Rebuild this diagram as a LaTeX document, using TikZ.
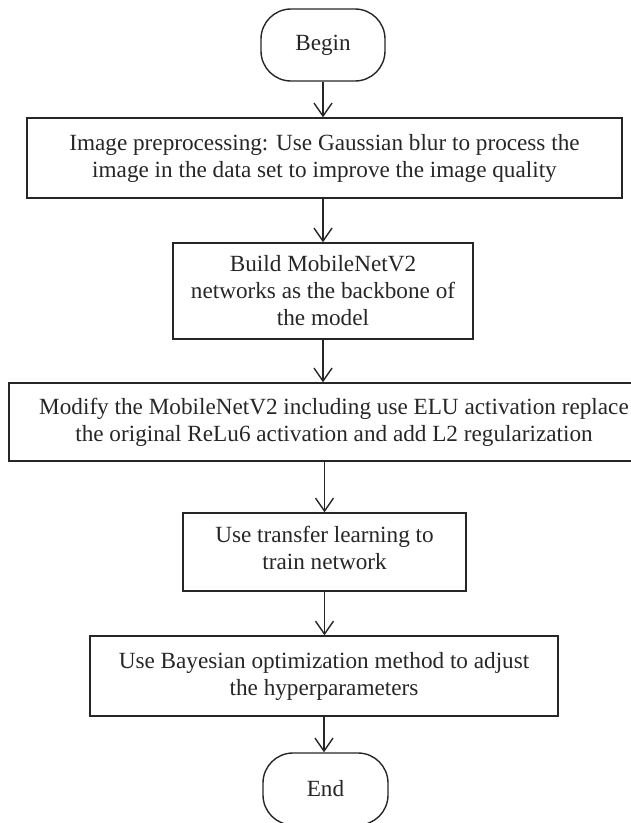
\documentclass[tikz,border=0pt]{standalone}
\usepackage{fontspec}
\setmainfont{Liberation Serif}
\usetikzlibrary{arrows.meta, positioning}

\begin{document}
\begin{tikzpicture}[
    x=1pt, y=-1pt,
    every node/.style = {draw=black!85, line width=1.4pt, align=center,
    inner sep=0pt, text=black!85, font=\fontsize{23.2}{27}\selectfont},
    term/.style = {rectangle, rounded corners=30pt,
    minimum width=124pt, minimum height=72pt},
    proc/.style = {rectangle, minimum height=#1},% box height
    flow/.style = {-{Straight Barb[length=13pt,width=18pt]},
    line width=1.4pt, draw=black!85}
    ]
    \useasboundingbox (0,0) rectangle (631,823);
    %
    \node (Begin) [term] at (323,45) {Begin};
    \node (Prep) [proc=80pt, minimum width=595pt] at (324.5,158)
        {Image preprocessing: Use Gaussian blur to process the\\
         image in the data set to improve the image quality};
    \node (Build) [proc=96pt, minimum width=300pt] at (323,291)
        {Build MobileNetV2\\networks as the backbone of\\the model};
    \node (Modify) [proc=78pt, minimum width=650pt] at (334,422)
        {Modify the MobileNetV2 including use ELU activation replace\\
         the original ReLu6 activation and add L2 regularization};
    \node (Transfer) [proc=78pt, minimum width=283pt] at (324.5,552)
        {Use transfer learning to\\train network\strut};
    \node (Bayes) [proc=80pt, minimum width=468pt] at (324,676)
        {Use Bayesian optimization method to adjust\\the hyperparameters};
    \node (End) [term, minimum width=125pt] at (325.5,789) {End};
    %
    \draw[flow] (Begin.south) -- (Begin.south |- Prep.north);
    \draw[flow] (Build.north |- Prep.south) -- (Build.north);
    \draw[flow] (Build.south) -- (Build.south |- Modify.north);
    \draw[flow] (Transfer.north |- Modify.south) -- (Transfer.north);
    \draw[flow] (Transfer.south) -- (Transfer.south |- Bayes.north);
    \draw[flow] (Bayes.south) -- (Bayes.south |- End.north);
\end{tikzpicture}
\end{document}
